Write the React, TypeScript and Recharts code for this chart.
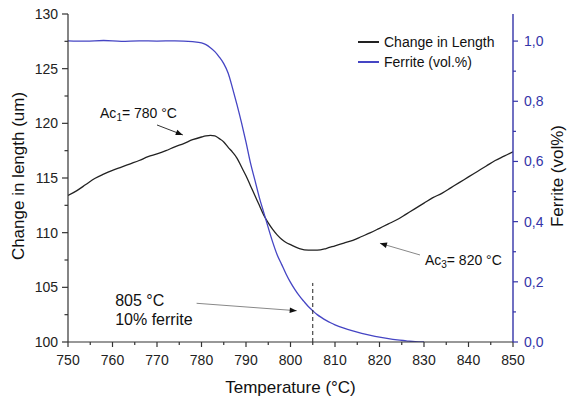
import {
  ComposedChart,
  Legend,
  Line,
  ReferenceDot,
  ReferenceLine,
  XAxis,
  YAxis,
} from "recharts";

const FONT = "Arial, 'Liberation Sans', sans-serif";
const AXIS = "#333333";
const BLUE_AXIS = "#3434a8";
const BLUE_LINE = "#4545c4";

// dilatometer curve, change in length (um) vs temperature (°C)
const lengthTemps = [
  750, 752, 754, 756, 758, 760, 762, 764, 766, 768, 770, 772, 774, 776, 778,
  780, 781, 782, 783, 784, 785, 786, 787, 788, 789, 790, 791, 792, 793, 794,
  795, 796, 797, 798, 799, 800, 802, 804, 806, 808, 810, 812, 814, 816, 818,
  820, 822, 824, 826, 828, 830, 832, 834, 836, 838, 840, 842, 844, 846, 848, 850,
];
const lengthValues = [
  113.4, 113.85, 114.4, 114.95, 115.35, 115.7, 116.0, 116.3, 116.6, 116.95,
  117.2, 117.5, 117.85, 118.15, 118.5, 118.75, 118.85, 118.9, 118.85, 118.6,
  118.3, 117.8, 117.35, 116.8, 116.0, 115.2, 114.3, 113.4, 112.5, 111.6,
  110.9, 110.3, 109.8, 109.4, 109.1, 108.9, 108.55, 108.4, 108.4, 108.55,
  108.8, 109.05, 109.3, 109.65, 110.0, 110.4, 110.8, 111.2, 111.7, 112.2,
  112.7, 113.2, 113.6, 114.1, 114.6, 115.1, 115.6, 116.1, 116.6, 117.0, 117.4,
];

// ferrite fraction (right axis)
const ferriteTemps = [
  750, 754, 758, 762, 766, 770, 774, 778, 780, 781, 782, 783, 784, 785, 786,
  787, 788, 789, 790, 791, 792, 793, 794, 795, 796, 797, 798, 799, 800, 801,
  802, 803, 804, 805, 806, 807, 808, 809, 810, 812, 814, 816, 818, 820, 822,
  824, 826, 828, 830,
];
const ferriteValues = [
  1.001, 1.0, 1.002, 0.999, 1.001, 1.0, 1.001, 0.998, 0.994, 0.988, 0.978,
  0.965, 0.947, 0.925, 0.893, 0.842, 0.787, 0.728, 0.664, 0.595, 0.538, 0.48,
  0.43, 0.38, 0.332, 0.29, 0.258, 0.226, 0.198, 0.174, 0.153, 0.135, 0.118,
  0.104, 0.091, 0.081, 0.072, 0.064, 0.057, 0.046, 0.037, 0.029, 0.022, 0.016,
  0.011, 0.007, 0.004, 0.001, 0.0,
];

const tempTicks = [
  750, 755, 760, 765, 770, 775, 780, 785, 790, 795, 800, 805, 810, 815, 820,
  825, 830, 835, 840, 845, 850,
];
const lengthTicks = [
  100, 102.5, 105, 107.5, 110, 112.5, 115, 117.5, 120, 122.5, 125, 127.5, 130,
];
const ferriteTicks = [0, 0.1, 0.2, 0.3, 0.4, 0.5, 0.6, 0.7, 0.8, 0.9, 1.0];

const lengthData = lengthTemps.map((t, i) => ({ t, len: lengthValues[i] }));
const ferriteData = ferriteTemps.map((t, i) => ({ t, fer: ferriteValues[i] }));

const tickText = { fontFamily: FONT, fontSize: 14 };

function BottomTick({ x, y, payload }: any) {
  const major = payload.value % 10 === 0;
  return (
    <g>
      <line x1={x} x2={x} y1={y} y2={y + (major ? 5 : 3)} stroke={AXIS} strokeWidth={1.2} />
      {major && (
        <text x={x} y={y + 18} textAnchor="middle" dominantBaseline="central" fill="#222" {...tickText}>
          {payload.value}
        </text>
      )}
    </g>
  );
}

function TopTick({ x, y }: any) {
  return <line x1={x} x2={x} y1={y} y2={y + 4} stroke={AXIS} strokeWidth={1.2} />;
}

function LeftTick({ x, y, payload }: any) {
  const major = payload.value % 5 === 0;
  return (
    <g>
      <line x1={x - (major ? 6 : 3.5)} x2={x} y1={y} y2={y} stroke={AXIS} strokeWidth={1.2} />
      {major && (
        <text x={x - 10} y={y} textAnchor="end" dominantBaseline="central" fill="#222" {...tickText}>
          {payload.value}
        </text>
      )}
    </g>
  );
}

function RightTick({ x, y, payload }: any) {
  const major = Math.round(payload.value * 10) % 2 === 0;
  return (
    <g>
      <line x1={x} x2={x + (major ? 5 : 3)} y1={y} y2={y} stroke={BLUE_AXIS} strokeWidth={1.2} />
      {major && (
        <text x={x + 11} y={y} textAnchor="start" dominantBaseline="central" fill={BLUE_AXIS} {...tickText}>
          {payload.value.toFixed(1).replace(".", ",")}
        </text>
      )}
    </g>
  );
}

const axisTitle =
  (text: string, dx: number, dy: number, angle: number) =>
  ({ viewBox }: any) => {
    const cx = viewBox.x + dx;
    const cy = viewBox.y + viewBox.height / 2 + dy;
    return (
      <text
        x={cx}
        y={cy}
        transform={`rotate(${angle} ${cx} ${cy})`}
        textAnchor="middle"
        dominantBaseline="central"
        fill="#111"
        fontFamily={FONT}
        fontSize={17}
      >
        {text}
      </text>
    );
  };

function Arrow({ x1, y1, x2, y2, color }: any) {
  return (
    <line x1={x1} y1={y1} x2={x2} y2={y2} stroke={color} strokeWidth={1} markerEnd="url(#arrowHead)" />
  );
}

function LegendBox() {
  const rows = [
    { name: "Change in Length", color: "#222" },
    { name: "Ferrite (vol.%)", color: BLUE_LINE },
  ];
  return (
    <div style={{ fontFamily: FONT, fontSize: 14, color: "#111" }}>
      {rows.map((r) => (
        <div key={r.name} style={{ display: "flex", alignItems: "center", height: 20 }}>
          <span style={{ display: "inline-block", width: 21, height: 1.5, background: r.color, marginRight: 5 }} />
          <span>{r.name}</span>
        </div>
      ))}
    </div>
  );
}

export default function App() {
  return (
    <div style={{ position: "absolute", left: 0, top: 0, background: "#fff" }}>
      <ComposedChart
        width={568}
        height={401}
        margin={{ top: 14, right: 5, bottom: 9, left: 12 }}
      >
        <defs>
          <marker id="arrowHead" viewBox="0 0 10 10" refX="10" refY="5" markerWidth="9" markerHeight="7" orient="auto" markerUnits="userSpaceOnUse">
            <path d="M0,1 L10,5 L0,9 z" fill="#111" />
          </marker>
        </defs>
        <XAxis
          dataKey="t"
          type="number"
          domain={[750, 850]}
          ticks={tempTicks}
          allowDataOverflow
          height={50}
          tickSize={0}
          tickMargin={0}
          tickLine={false}
          tick={<BottomTick />}
          axisLine={{ stroke: AXIS, strokeWidth: 1.2 }}
          interval={0}
          label={axisTitle("Temperature (°C)", 222.5, 20, 0) as any}
        />
        <XAxis
          xAxisId="top"
          dataKey="t"
          type="number"
          orientation="top"
          domain={[750, 850]}
          ticks={tempTicks}
          allowDataOverflow
          height={0}
          tickSize={0}
          tickMargin={0}
          tickLine={false}
          tick={<TopTick />}
          axisLine={{ stroke: AXIS, strokeWidth: 1.2 }}
          interval={0}
        />
        <YAxis
          yAxisId="len"
          type="number"
          domain={[100, 130]}
          ticks={lengthTicks}
          allowDataOverflow
          width={56}
          tickSize={0}
          tickMargin={0}
          tickLine={false}
          tick={<LeftTick />}
          axisLine={{ stroke: AXIS, strokeWidth: 1.2 }}
          interval={0}
          label={axisTitle("Change in length (um)", 6, -2, -90) as any}
        />
        <YAxis
          yAxisId="fer"
          orientation="right"
          type="number"
          domain={[0, 1.09]}
          ticks={ferriteTicks}
          allowDataOverflow
          width={50}
          tickSize={0}
          tickMargin={0}
          tickLine={false}
          tick={<RightTick />}
          axisLine={{ stroke: BLUE_AXIS, strokeWidth: 1.4 }}
          interval={0}
          label={axisTitle("Ferrite (vol%)", 44, -2, -90) as any}
        />
        <Legend
          layout="vertical"
          align="center"
          verticalAlign="middle"
          content={<LegendBox />}
          wrapperStyle={{ left: 358, top: 32, width: 160 }}
        />
        <Line
          yAxisId="len"
          data={lengthData}
          dataKey="len"
          type="monotone"
          stroke="#222"
          strokeWidth={1.3}
          dot={false}
          isAnimationActive={false}
        />
        <Line
          yAxisId="fer"
          data={ferriteData}
          dataKey="fer"
          type="monotone"
          stroke={BLUE_LINE}
          strokeWidth={1.3}
          dot={false}
          isAnimationActive={false}
        />
        <ReferenceLine
          yAxisId="len"
          segment={[{ x: 805, y: 100 }, { x: 805, y: 105.4 }]}
          stroke="#222"
          strokeDasharray="4 3"
        />
        <ReferenceLine
          yAxisId="len"
          segment={[{ x: 770, y: 119.85 }, { x: 775.8, y: 118.94 }]}
          shape={(p: any) => <Arrow {...p} color="#333" />}
        />
        <ReferenceLine
          yAxisId="len"
          segment={[{ x: 829.1, y: 107.96 }, { x: 820.1, y: 109.03 }]}
          shape={(p: any) => <Arrow {...p} color="#888" />}
        />
        <ReferenceLine
          yAxisId="len"
          segment={[{ x: 778.9, y: 103.54 }, { x: 801.4, y: 102.86 }]}
          shape={(p: any) => <Arrow {...p} color="#888" />}
        />
        <ReferenceDot
          yAxisId="len"
          x={757.2}
          y={120.95}
          r={0}
          shape={(p: any) => (
            <text x={p.cx} y={p.cy} dominantBaseline="central" fill="#111" fontFamily={FONT} fontSize={14}>
              Ac<tspan fontSize={10} dy={4}>1</tspan>
              <tspan dy={-4}>= 780 °C</tspan>
            </text>
          )}
        />
        <ReferenceDot
          yAxisId="len"
          x={830.2}
          y={107.46}
          r={0}
          shape={(p: any) => (
            <text x={p.cx} y={p.cy} dominantBaseline="central" fill="#111" fontFamily={FONT} fontSize={14}>
              Ac<tspan fontSize={10} dy={4}>3</tspan>
              <tspan dy={-4}>= 820 °C</tspan>
            </text>
          )}
        />
        <ReferenceDot
          yAxisId="len"
          x={760.6}
          y={103.78}
          r={0}
          shape={(p: any) => (
            <text x={p.cx} y={p.cy} dominantBaseline="central" fill="#111" fontFamily={FONT} fontSize={16}>
              805 °C
            </text>
          )}
        />
        <ReferenceDot
          yAxisId="len"
          x={760.6}
          y={102.08}
          r={0}
          shape={(p: any) => (
            <text x={p.cx} y={p.cy} dominantBaseline="central" fill="#111" fontFamily={FONT} fontSize={16}>
              10% ferrite
            </text>
          )}
        />
      </ComposedChart>
    </div>
  );
}
